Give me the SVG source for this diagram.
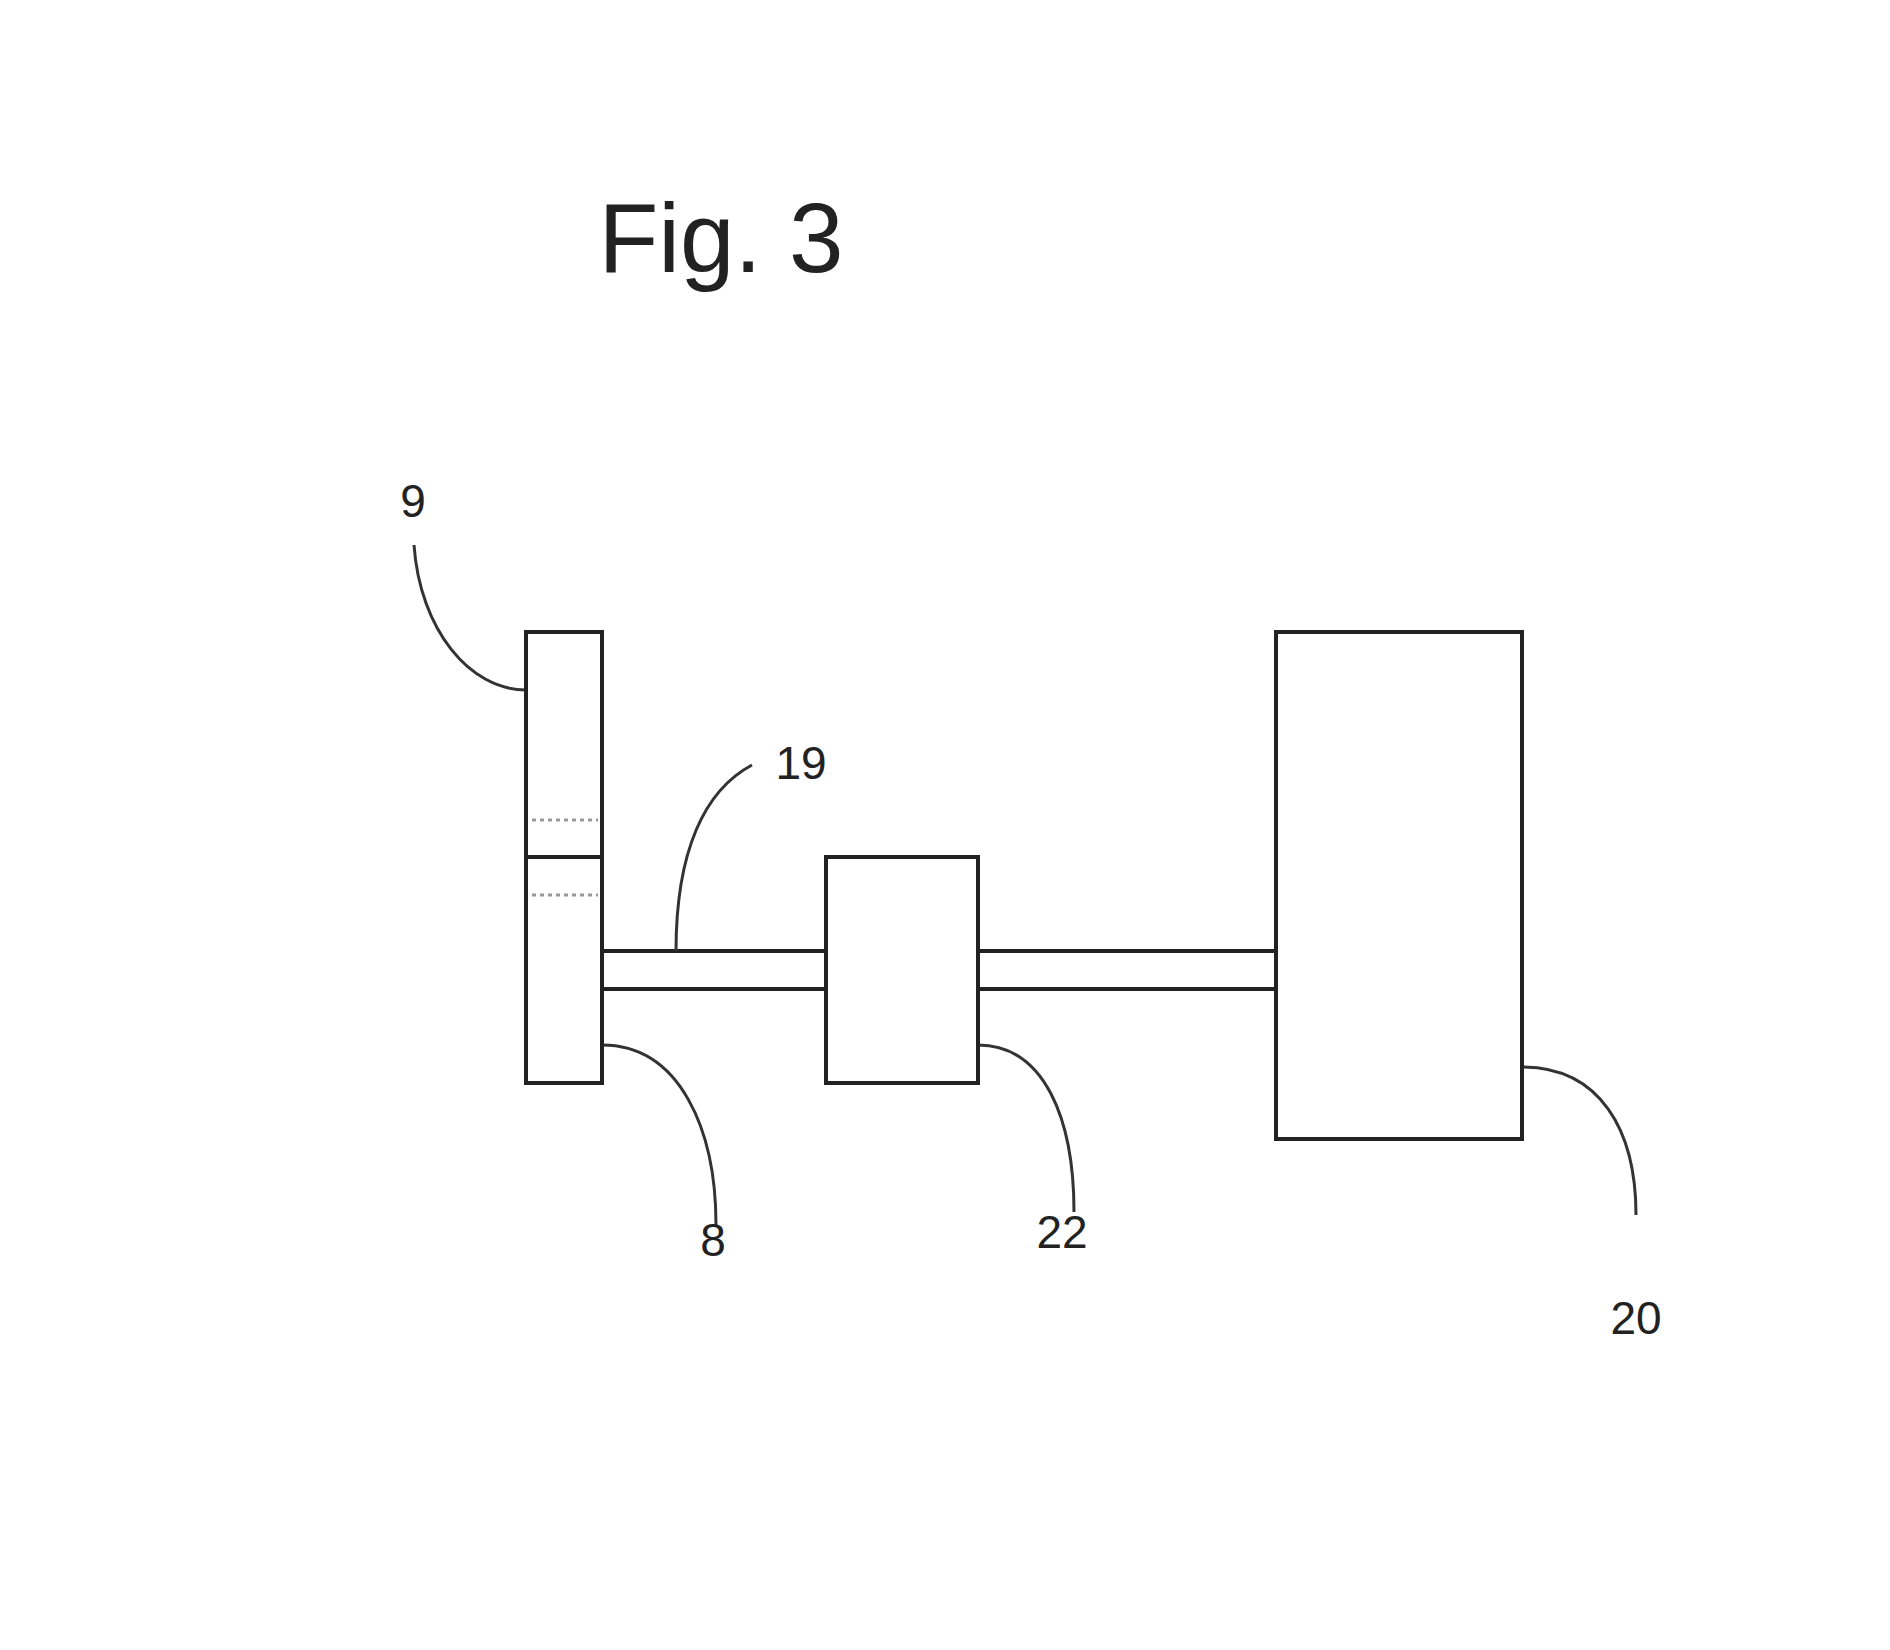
<svg xmlns="http://www.w3.org/2000/svg" width="1890" height="1650" viewBox="0 0 1890 1650">
<style>
.s{fill:none;stroke:#222;stroke-width:4}
.l{fill:none;stroke:#333;stroke-width:3}
.d{stroke:#999;stroke-width:3;stroke-dasharray:4 4}
text{font-family:"Liberation Sans",Arial,sans-serif;fill:#222;font-size:46px;text-anchor:middle}
</style>
<rect width="1890" height="1650" fill="#fff"/>
<text x="721" y="272" style="font-size:98px">Fig. 3</text>
<g id="connectors">
<line class="s" x1="602" y1="951" x2="826" y2="951"/>
<line class="s" x1="602" y1="989" x2="826" y2="989"/>
<line class="s" x1="978" y1="951" x2="1276" y2="951"/>
<line class="s" x1="978" y1="989" x2="1276" y2="989"/>
<path class="l" d="M414,545 C420,630 470,690 526,690"/>
<path class="l" d="M676,951 C676,850 705,790 752,765"/>
<path class="l" d="M602,1045 C680,1045 716,1130 716,1225"/>
<path class="l" d="M978,1045 C1045,1045 1074,1120 1074,1212"/>
<path class="l" d="M1522,1067 C1600,1067 1636,1130 1636,1215"/>
</g>
<g id="n9">
<rect class="s" x="526" y="632" width="76" height="451"/>
<line class="s" x1="526" y1="857" x2="602" y2="857"/>
<line class="d" x1="532" y1="820" x2="598" y2="820"/>
<line class="d" x1="532" y1="895" x2="598" y2="895"/>
<text x="413" y="517">9</text>
</g>
<g id="n22"><rect class="s" x="826" y="857" width="152" height="226"/><text x="1062" y="1248">22</text></g>
<g id="n20"><rect class="s" x="1276" y="632" width="246" height="507"/><text x="1636" y="1334">20</text></g>
<g id="n19"><text x="801" y="779">19</text></g>
<g id="n8"><text x="713" y="1256">8</text></g>
</svg>
